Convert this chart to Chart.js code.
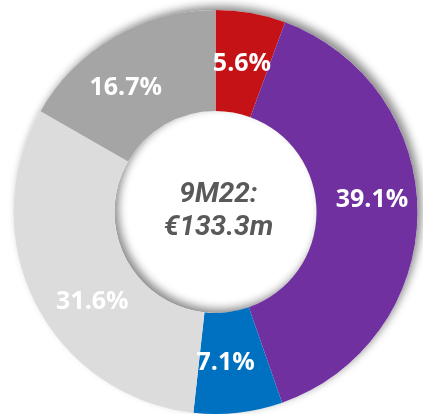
<!DOCTYPE html>
<html>
<head>
<meta charset="utf-8">
<script src="https://cdn.jsdelivr.net/npm/chart.js@4"></script>
<style>
  html, body { margin: 0; padding: 0; background: #fff; }
  #wrap { width: 423px; height: 414px; position: relative; }
</style>
</head>
<body>
<div id="wrap"><canvas id="donut"></canvas></div>
<script>
const SEGMENTS = ["Segment A", "Segment B", "Segment C", "Segment D", "Segment E"],
      SHARES = [5.6, 39.1, 7.1, 31.6, 16.7],
      LABELS = ["5.6%", "39.1%", "7.1%", "31.6%", "16.7%"],
      CENTER_LINES = ["9M22:", "€133.3m"];

const COLORS = ['#c41216', '#7030a0', '#0070c0', '#dcdcdc', '#a5a5a5'];
// hand placed labels in the original, small nudges from the arc middle
const NUDGE = [[0, 1], [5, -13], [-7, 0], [12, 21], [-14, 7]];

// one shadow for the whole ring, drawn under the arcs
const ringShadow = {
    id: 'ringShadow',
    beforeDatasetsDraw(chart) {
        const arc = chart.getDatasetMeta(0).data[0];
        if (!arc) return;
        const { x, y, innerRadius, outerRadius } = arc.getProps(['x', 'y', 'innerRadius', 'outerRadius'], true);
        const ctx = chart.ctx;
        ctx.save();
        ctx.shadowColor = 'rgba(0,0,0,0.45)';
        ctx.shadowBlur = 9;
        ctx.shadowOffsetX = 4;
        ctx.shadowOffsetY = -4;
        ctx.beginPath();
        ctx.arc(x, y, outerRadius, 0, Math.PI * 2);
        ctx.arc(x, y, innerRadius, Math.PI * 2, 0, true);
        ctx.closePath();
        ctx.fillStyle = '#fff';
        ctx.fill('evenodd');
        ctx.restore();
    }
};

const sliceLabels = {
    id: 'sliceLabels',
    afterDatasetsDraw(chart) {
        const ctx = chart.ctx, meta = chart.getDatasetMeta(0);
        ctx.save();
        ctx.font = "bold 25px 'Open Sans'";
        ctx.fillStyle = '#fff';
        ctx.textAlign = 'center';
        ctx.textBaseline = 'middle';
        meta.data.forEach((arc, i) => {
            const p = arc.tooltipPosition();
            ctx.fillText(LABELS[i], p.x + NUDGE[i][0], p.y + NUDGE[i][1]);
        });

        const a = meta.data[0];
        ctx.font = "italic bold 28px Roboto";
        ctx.fillStyle = '#595959';
        ctx.fillText(CENTER_LINES[0], a.x + 3, a.y - 17);
        ctx.fillText(CENTER_LINES[1], a.x + 3, a.y + 16);
        ctx.restore();
    }
};

new Chart(document.getElementById('donut'), {
    type: 'doughnut',
    data: {
        labels: SEGMENTS,
        datasets: [{ data: SHARES, backgroundColor: COLORS, borderWidth: 0, hoverOffset: 0 }]
    },
    options: {
        responsive: true,
        maintainAspectRatio: false,
        animation: false,
        cutout: '50%',
        layout: { padding: { top: 10, left: 8, right: 0, bottom: 0 } },
        plugins: { legend: { display: false }, tooltip: { enabled: false } },
        events: []
    },
    plugins: [ringShadow, sliceLabels]
});
</script>
</body>
</html>
